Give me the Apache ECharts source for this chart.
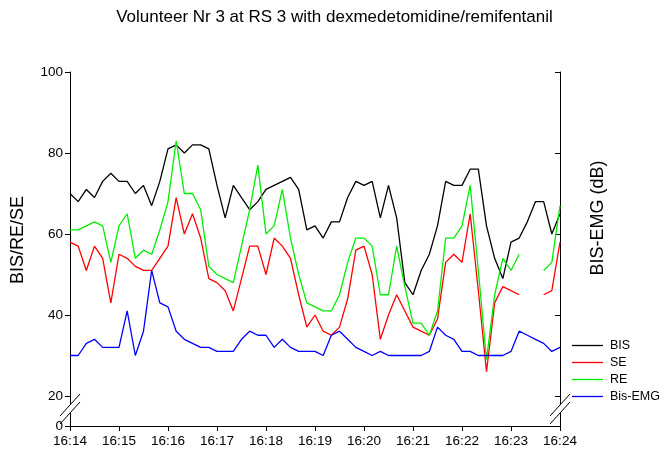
<!DOCTYPE html>
<html><head><meta charset="utf-8">
<script src="https://cdn.jsdelivr.net/npm/echarts@6/dist/echarts.min.js"></script>
<style>html,body{margin:0;padding:0;background:#fff}#c{width:669px;height:454px}</style>
</head><body><div id="c"></div>
<script>
// ---- data ----
const timeLabels = ['16:14','16:15','16:16','16:17','16:18','16:19','16:20','16:21','16:22','16:23','16:24'];
const seconds = [0,10,20,30,40,50,60,70,80,90,100,110,120,130,140,150,160,170,180,190,200,210,220,230,240,250,260,270,280,290,300,310,320,330,340,350,360,370,380,390,400,410,420,430,440,450,460,470,480,490,500,510,520,530,540,550,560,570,580,590,600];
const bis = [70,68,71,69,73,75,73,73,70,72, 67,73,81,82,80,82,82,81,72,64, 72,69,66,68,71,72,73,74,71,61, 62,59,63,63,69,73,72,73,64,72, 64,48,45,51,55,62,73,72,72,76, 76,62,54,49,58,59,63,68,68,60,65];
const se = [58,57,51,57,54,43,55,54,52,51, 51,54,57,69,60,65,59,49,48,46, 41,49,57,57,50,59,57,54,45,37, 40,36,35,37,44,56,57,50,34,40, 45,41,37,36,35,39,53,55,53,65, 46,26,43,47,46,45,null,null,45,46,58];
const re = [61,61,62,63,62,53,62,65,54,56, 55,61,68,83,70,70,66,52,50,49, 48,57,66,77,60,62,71,59,50,43, 42,41,41,45,53,59,59,57,45,45, 57,47,38,38,35,41,59,59,62,72, 51,29,45,54,51,55,null,null,51,53,67];
const bisEmg = [30,30,33,34,32,32,32,41,30,36, 51,43,42,36,34,33,32,32,31,31, 31,34,36,35,35,32,34,32,31,31, 31,30,35,36,34,32,31,30,31,30, 30,30,30,30,31,37,35,34,31,31, 30,30,30,30,31,36,35,34,33,31,32];
const yTicks = [20,40,60,80,100];
const seriesNames = ['BIS','SE','RE','Bis-EMG'];

// ---- layout ----
const W = 669, Hh = 454;
const GRID = {left:70, right:109, top:72, bottom:28};
const PX20 = 396;
const Y_MAX = 100;
const Y_MIN = 20 - 80 * ((Hh - GRID.bottom) - PX20) / (PX20 - GRID.top);
const FONT = 'Liberation Sans, Arial, sans-serif';
const colors = ['#000000','#ff0000','#00ee00','#0000ff'];

function pairs(arr){ return seconds.map((t,i)=>[t, arr[i]==null ? '-' : arr[i]]); }

const chart = echarts.init(document.getElementById('c'), null, {renderer:'canvas'});
const axX = GRID.left, axR = W - GRID.right;
const yc = 409;
function breakMarks(ax){
  const d = 4;
  return [
    {type:'rect', shape:{x:ax-3, y:yc-d, width:6, height:2*d}, style:{fill:'#fff'}, z:100},
    {type:'line', shape:{x1:ax-10, y1:yc-d+11, x2:ax+10, y2:yc-d-11}, style:{stroke:'#000', lineWidth:1}, z:101},
    {type:'line', shape:{x1:ax-10, y1:yc+d+11, x2:ax+10, y2:yc+d-11}, style:{stroke:'#000', lineWidth:1}, z:101}
  ];
}

const option = {
  animation:false,
  backgroundColor:'#fff',
  textStyle:{fontFamily:FONT},
  title:{text:'Volunteer Nr 3 at RS 3 with dexmedetomidine/remifentanil', left:'center', top:4,
    textStyle:{fontFamily:FONT, fontSize:17, fontWeight:'normal', color:'#000'}},
  legend:{orient:'vertical', left:567, top:334, icon:'rect', itemWidth:31, itemHeight:1.3, itemGap:4,
    data:seriesNames, textStyle:{fontFamily:FONT, fontSize:12.5, lineHeight:13, color:'#000', padding:[0,0,0,2]}},
  grid:GRID,
  xAxis:{type:'value', min:0, max:600, interval:60,
    axisLine:{lineStyle:{color:'#000', width:1}},
    axisTick:{length:5, lineStyle:{color:'#000'}},
    axisLabel:{color:'#000', fontSize:13.5, fontFamily:FONT, margin:8, formatter:v=>timeLabels[Math.round(v/60)]},
    splitLine:{show:false}},
  yAxis:[
    {type:'value', position:'left', min:Y_MIN, max:Y_MAX,
     axisLine:{show:true, lineStyle:{color:'#000', width:1}},
     axisTick:{show:true, length:5, customValues:[Y_MIN].concat(yTicks), lineStyle:{color:'#000'}},
     axisLabel:{show:true, color:'#000', fontSize:13.5, fontFamily:FONT, margin:7, customValues:[Y_MIN].concat(yTicks),
       formatter:v=> v < 19 ? '0' : String(Math.round(v))},
     splitLine:{show:false}},
    {type:'value', position:'right', min:Y_MIN, max:Y_MAX,
     axisLine:{show:true, lineStyle:{color:'#000', width:1}},
     axisTick:{show:true, inside:true, length:5, customValues:yTicks, lineStyle:{color:'#000'}},
     axisLabel:{show:false},
     splitLine:{show:false}}
  ],
  series:[
    {name:'BIS', type:'line', data:pairs(bis), symbol:'none', lineStyle:{width:1.3, color:colors[0]}, itemStyle:{color:colors[0]}},
    {name:'SE', type:'line', data:pairs(se), symbol:'none', lineStyle:{width:1.3, color:colors[1]}, itemStyle:{color:colors[1]}},
    {name:'RE', type:'line', data:pairs(re), symbol:'none', lineStyle:{width:1.3, color:colors[2]}, itemStyle:{color:colors[2]}},
    {name:'Bis-EMG', type:'line', data:pairs(bisEmg), symbol:'none', lineStyle:{width:1.3, color:colors[3]}, itemStyle:{color:colors[3]}}
  ],
  graphic:[
    {type:'text', x:18, y:240, rotation:Math.PI/2,
     style:{text:'BIS/RE/SE', fontFamily:FONT, fontSize:18, fill:'#000', align:'center', verticalAlign:'middle'}},
    {type:'text', x:598, y:218, rotation:Math.PI/2,
     style:{text:'BIS-EMG (dB)', fontFamily:FONT, fontSize:18, fill:'#000', align:'center', verticalAlign:'middle'}}
  ].concat(breakMarks(axX), breakMarks(axR))
};
chart.setOption(option);
</script>
</body></html>
